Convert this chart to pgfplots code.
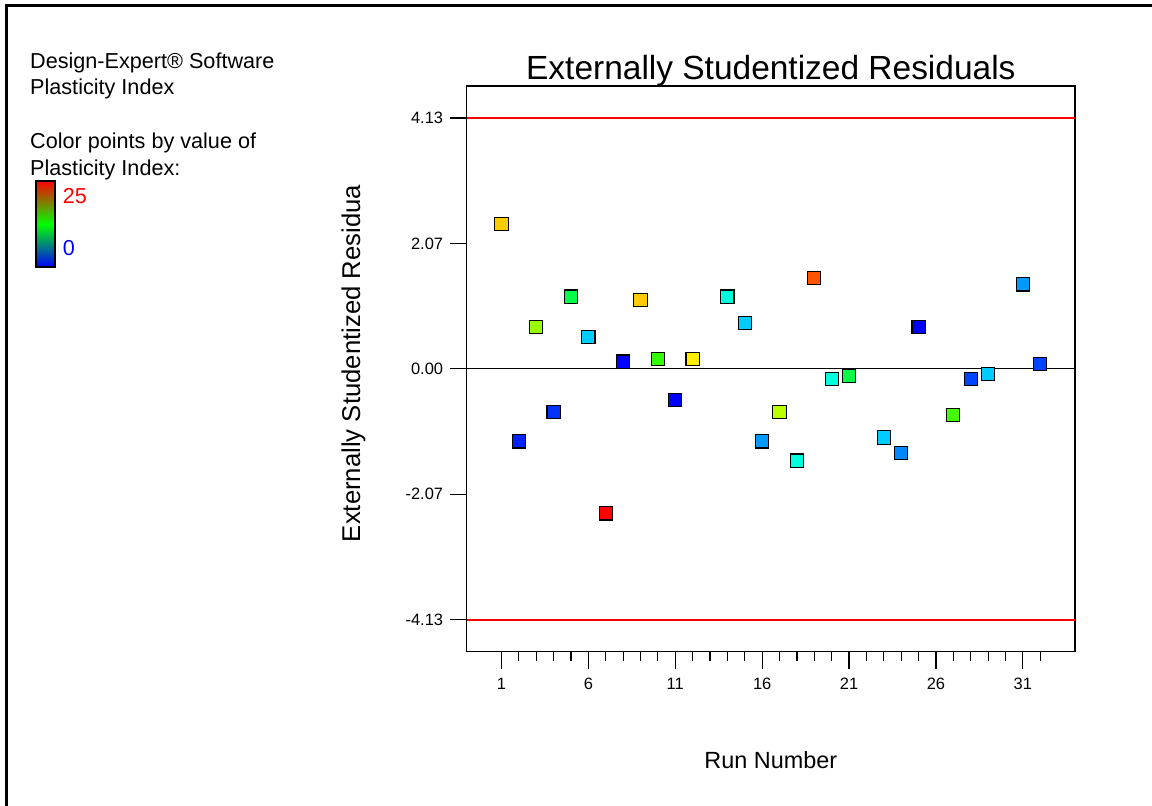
\documentclass[border=0pt]{standalone}
\usepackage{pgfplots}
\pgfplotsset{compat=1.18}
\usepackage{fontspec}
\setmainfont{Liberation Sans}
\pgfplotstableread{
run resid meta
1   2.385  0.80
2  -1.195  0.033
3   0.69   0.65
4  -0.71   0.05
5   1.19   0.433
6   0.52   0.20
7  -2.38   1.00
8   0.12   0.00
9   1.135  0.80
10  0.165  0.55
11 -0.515  0.00
12  0.165  0.767
14  1.19   0.283
15  0.75   0.20
16 -1.195  0.15
17 -0.71   0.683
18 -1.51   0.283
19  1.50   0.917
20 -0.165  0.283
21 -0.12   0.433
23 -1.13   0.20
24 -1.39   0.133
25  0.69   0.00
27 -0.757  0.567
28 -0.165  0.067
29 -0.09   0.20
31  1.39   0.15
32  0.077  0.067
}\resid
\definecolor{cbgreen}{RGB}{0,255,0}
\definecolor{limred}{RGB}{255,0,0}
\begin{document}
\begin{tikzpicture}
\path[use as bounding box] (0,0) rectangle (1152bp,806bp);
\draw[line width=2.2bp, line cap=rect] (6.5bp,0bp) -- (6.5bp,800.5bp) -- (1152bp,800.5bp);
\begin{scope}[every node/.style={inner sep=0pt, font=\fontsize{21.7}{26}\selectfont}]
\node[anchor=base west] at (30bp,737.7bp) {Design-Expert® Software};
\node[anchor=base west] at (30bp,711bp) {Plasticity Index};
\node[anchor=base west] at (30bp,657.7bp) {Color points by value of};
\node[anchor=base west] at (30bp,630.3bp) {Plasticity Index:};
\node[anchor=base west, text=red] at (62.7bp,602.7bp) {25};
\node[anchor=base west, text=blue] at (62.7bp,550bp) {0};
\end{scope}
\shade[top color=red, bottom color=blue, middle color=cbgreen] (36bp,539bp) rectangle (55bp,625bp);
\draw[line width=1.8bp] (36bp,539bp) rectangle (55bp,625bp);
\begin{axis}[
  at={(466.7bp,154.3bp)}, anchor=south west,
  scale only axis, width=608.3bp, height=565.7bp,
  xmin=-1, xmax=34, ymin=-4.656, ymax=4.656,
  axis line style={line width=1.5bp},
  tick align=outside, xtick pos=bottom, ytick pos=left,
  xtick={1,6,...,31}, minor xtick={1,...,32},
  ytick={-4.13,-2.065,0,2.065,4.13},
  yticklabels={-4.13,-2.07,0.00,2.07,4.13},
  major tick length=17bp, minor tick length=9bp,
  tick style={black, line width=1.2bp},
  ticklabel style={font=\fontsize{16.5}{20}\selectfont},
  /pgf/number format/assume math mode=true,
  yticklabel style={anchor=east, inner sep=0pt, xshift=-6.4bp},
  xticklabel style={anchor=base, inner sep=0pt, yshift=-20.3bp},
  title={Externally Studentized Residuals},
  title style={at={(axis description cs:0.5,1.0017)}, anchor=base, inner sep=0pt, font=\fontsize{33.6}{40}\selectfont},
  xlabel={Run Number},
  xlabel style={at={(axis description cs:0.5,-0.2063)}, anchor=base, inner sep=0pt, font=\fontsize{23.5}{28}\selectfont},
  ylabel={Externally Studentized Residua},
  ylabel style={at={(axis description cs:-0.1754,0.5096)}, anchor=base, inner sep=0pt, font=\fontsize{25.8}{30}\selectfont},
  colormap={de}{rgb255=(0,0,255) rgb255=(0,255,255) rgb255=(0,255,0) rgb255=(255,255,0) rgb255=(255,0,0)},
  point meta min=0, point meta max=1,
]
\addplot[draw=black, line width=1.2bp] coordinates {(-1,0) (34,0)};
\addplot[scatter, only marks, mark=square*, mark size=6.6bp,
  scatter/use mapped color={draw=black, fill=mapped color},
  mark options={line width=1.1bp}, point meta=explicit]
  table[x=run, y=resid, meta=meta] {\resid};
\addplot[draw=limred, line width=1.7bp] coordinates {(-1,4.13) (34,4.13)};
\addplot[draw=limred, line width=1.7bp] coordinates {(-1,-4.13) (34,-4.13)};
\end{axis}
\end{tikzpicture}
\end{document}
